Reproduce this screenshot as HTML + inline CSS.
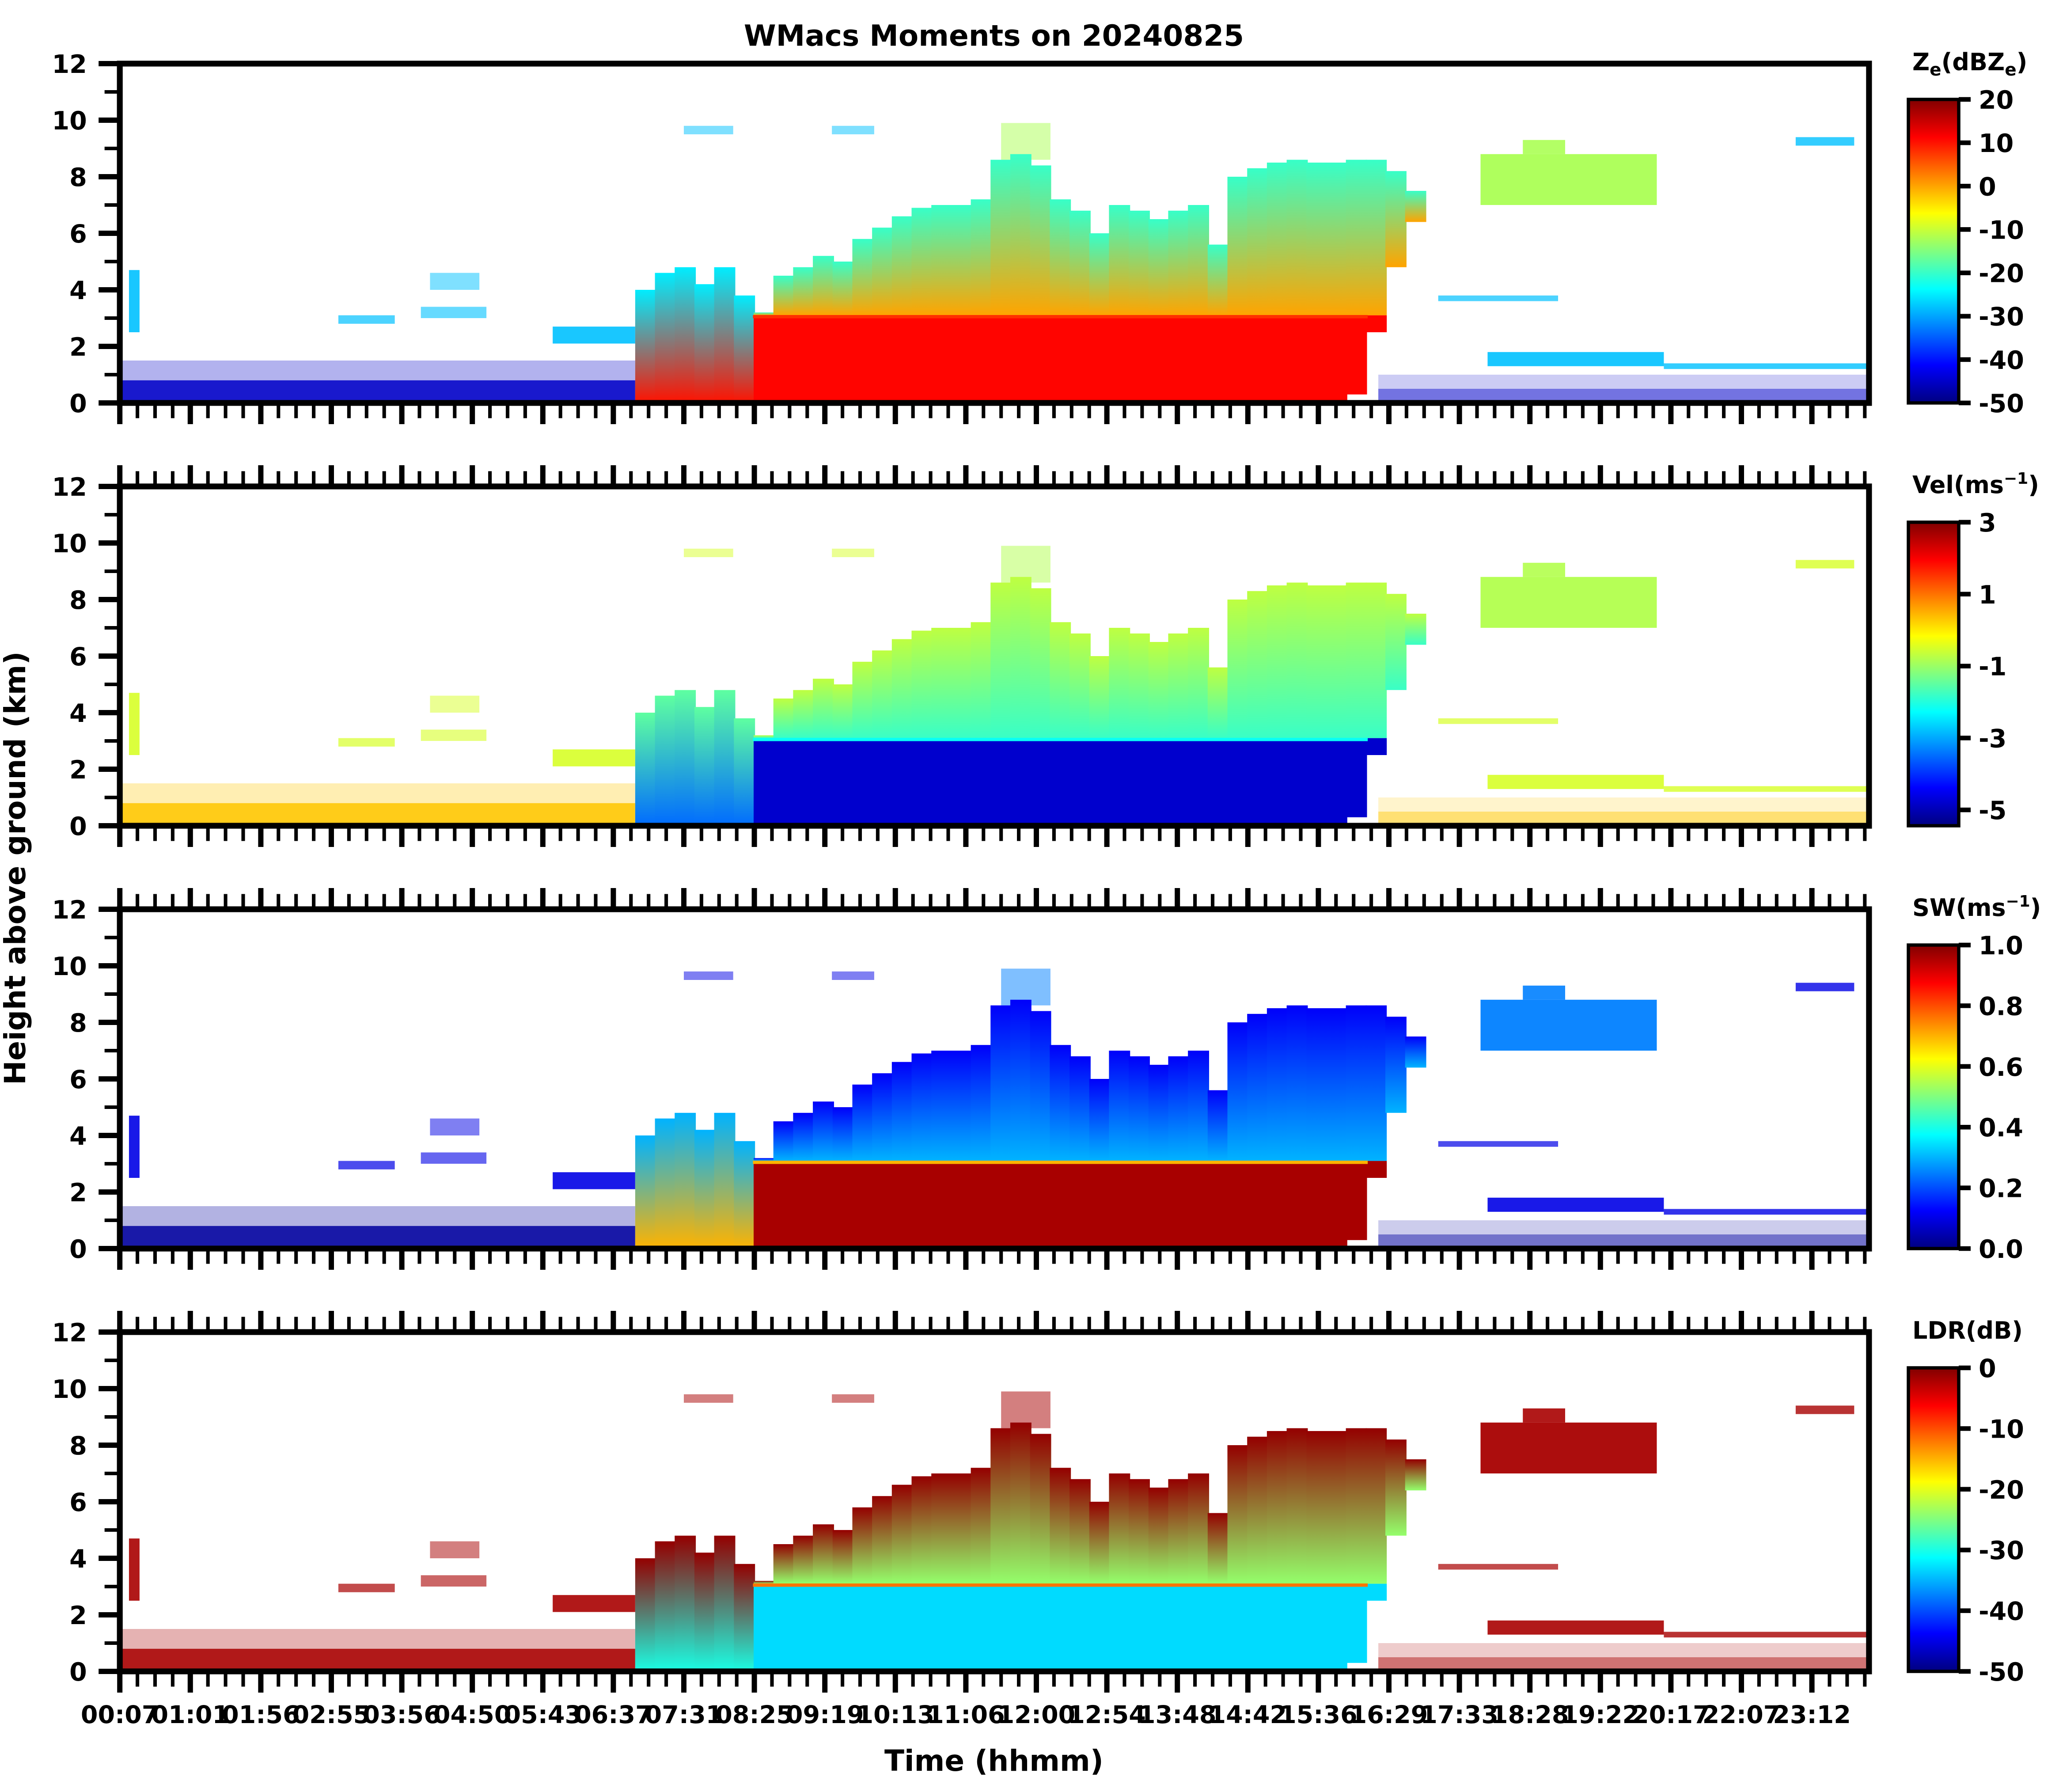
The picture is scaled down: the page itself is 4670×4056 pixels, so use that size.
<!DOCTYPE html>
<html><head><meta charset="utf-8"><title>WMacs Moments</title>
<style>html,body{margin:0;padding:0;background:#fff}svg{display:block}text{font-family:"DejaVu Sans","Liberation Sans",sans-serif;font-weight:bold;fill:#000}</style>
</head><body>
<svg id="fig" xmlns="http://www.w3.org/2000/svg" width="4670" height="4056" viewBox="0 0 1556.67 1352">
<rect width="1556.67" height="1352" fill="#fff"/>
<defs id="defs"></defs>
<text x="750" y="34.5" font-size="22" text-anchor="middle">WMacs Moments on 20240825</text>
<text x="750" y="1336" font-size="22" text-anchor="middle">Time (hhmm)</text>
<text transform="translate(19,655) rotate(-90)" font-size="22" text-anchor="middle">Height above ground (km)</text>
<g id="root"></g>
</svg>
<script>
// ---- data (x in tick-index units, heights in km) ----
const xTickLabels = ["00:07","01:01","01:56","02:55","03:56","04:50","05:43","06:37","07:31","08:25","09:19","10:13","11:06","12:00","12:54","13:48","14:42","15:36","16:29","17:33","18:28","19:22","20:17","22:07","23:12"];
const yTicks = [0,2,4,6,8,10,12];
const mainStart = 7.31;
const mainStep = 0.28;
const mainTops = [4.0,4.6,4.8,4.2,4.8,3.8,3.2,4.5,4.8,5.2,5.0,5.8,6.2,6.6,6.9,7.0,7.0,7.2,8.6,8.8,8.4,7.2,6.8,6.0,7.0,6.8,6.5,6.8,7.0,5.6,8.0,8.3,8.5,8.6,8.5,8.5,8.6,8.6,8.2,7.5];
const mainBases = [0,0,0,0,0,0,0,0,0,0,0,0,0,0,0,0,0,0,0,0,0,0,0,0,0,0,0,0,0,0,0,0,0,0,0,0,0.3,2.5,4.8,6.4];
const convEnd = 8.98;
const rainTop = 3.1;
const meltEnd = 17.7;
// segments: [u0,u1,base,top,kind,coverage]
const segments = [
 [0,7.31,0,0.8,"noise",0.9],[0,7.31,0.8,1.5,"noise",0.3],
 [17.85,24.8,0,0.5,"noise",0.55],[17.85,24.8,0.5,1.0,"noise",0.2],
 [0.13,0.28,2.5,4.7,"thin",0.9],
 [3.1,3.9,2.8,3.1,"thin",0.7],[4.27,5.2,3.0,3.4,"thin",0.6],[4.4,5.1,4.0,4.6,"thin",0.5],
 [6.14,7.31,2.1,2.7,"thin",0.9],
 [19.4,21.9,1.3,1.8,"low",0.9],[21.9,24.8,1.2,1.4,"low",0.8],
 [19.3,21.8,7.0,8.8,"upper",0.95],[19.9,20.5,8.8,9.3,"upper",0.9],
 [18.7,20.4,3.6,3.8,"thin",0.7],[23.77,24.6,9.1,9.4,"thin",0.8],
 [8.0,8.7,9.5,9.8,"thin",0.5],[10.1,10.7,9.5,9.8,"thin",0.5],
 [12.5,13.2,8.6,9.9,"upper",0.5]
];
// per-panel values by kind
const panelNames = ["ze","vel","sw","ldr"];
const vmin = [-50,-5.44,0,-50];
const vmax = [20,3,1,0];
const cbTicks = [[20,10,0,-10,-20,-30,-40,-50],[3,1,-1,-3,-5],[1.0,0.8,0.6,0.4,0.2,0.0],[0,-10,-20,-30,-40,-50]];
const noiseVal = [-45,0.3,0.03,-2];
const thinVal = [-28,-0.5,0.1,-2];
const lowVal = [-28,-0.5,0.1,-2];
const upperVal = [-12,-0.8,0.25,-2];
const rainVal = [11,-4.8,0.96,-33];
const iceBottomVal = [0,-1.8,0.3,-24];
const iceTopVal = [-20,-0.7,0.12,-1];
const convBottomVal = [10,-3.5,0.7,-30];
const convTopVal = [-25,-1.5,0.3,-1];
const meltVal = [8,-2.2,0.7,-12];

// ---- layout ----
const L=90.4,R=1410.3,PH=256;
const panelTops=[48,367,686,1005];
const NS="http://www.w3.org/2000/svg";
const root=document.getElementById('root');
const defs=document.getElementById('defs');
function el(tag,attrs,parent){const e=document.createElementNS(NS,tag);for(const k in attrs)e.setAttribute(k,attrs[k]);(parent||root).appendChild(e);return e;}
function xs(u){return L+u*53.2;}
function jet(t){t=Math.max(0,Math.min(1,t));
 const r=Math.max(0,Math.min(1,1.5-Math.abs(4*t-3))),g=Math.max(0,Math.min(1,1.5-Math.abs(4*t-2))),b=Math.max(0,Math.min(1,1.5-Math.abs(4*t-1)));
 return "rgb("+Math.round(r*255)+","+Math.round(g*255)+","+Math.round(b*255)+")";}
const kindVals={noise:noiseVal,thin:thinVal,low:lowVal,upper:upperVal};
const cbTitles=['Z<tspan font-size="13" dy="4">e</tspan><tspan dy="-4">(dBZ</tspan><tspan font-size="13" dy="4">e</tspan><tspan dy="-4">)</tspan>','Vel(ms<tspan font-size="12" dy="-7">−1</tspan><tspan dy="7">)</tspan>','SW(ms<tspan font-size="12" dy="-7">−1</tspan><tspan dy="7">)</tspan>','LDR(dB)'];

panelNames.forEach((pn,p)=>{
 const top=panelTops[p],bot=top+PH;
 const ys=h=>bot-h/12*PH;
 const col=v=>jet((v-vmin[p])/(vmax[p]-vmin[p]));
 const g=el('g',{});
 
 
 const gi=el('linearGradient',{id:'ice'+p,x1:0,y1:1,x2:0,y2:0},defs);
 el('stop',{offset:0,'stop-color':col(iceBottomVal[p])},gi);el('stop',{offset:1,'stop-color':col(iceTopVal[p])},gi);
 const gc=el('linearGradient',{id:'conv'+p,x1:0,y1:1,x2:0,y2:0},defs);
 el('stop',{offset:0,'stop-color':col(convBottomVal[p])},gc);el('stop',{offset:1,'stop-color':col(convTopVal[p])},gc);
 const clip=el('clipPath',{id:'clip'+p},defs);el('rect',{x:L,y:top,width:R-L,height:PH},clip);
 const data=el('g',{'clip-path':'url(#clip'+p+')'},g);
 segments.forEach(s=>{
  const r=el('rect',{x:xs(s[0]),y:ys(s[3]),width:xs(s[1])-xs(s[0]),height:ys(s[2])-ys(s[3]),fill:col(kindVals[s[4]][p]),'fill-opacity':s[5]},data);
  
  
 });
 mainTops.forEach((t,i)=>{
  const u0=mainStart+i*mainStep,u1=u0+mainStep+0.02,b=mainBases[i];
  const x0=xs(u0),w=xs(u1)-x0;
  if(u0<convEnd){
   const r=el('rect',{x:x0,y:ys(t),width:w,height:ys(b)-ys(t),fill:'url(#conv'+p+')'},data);
   
   
  } else {
   const rt=Math.max(b,Math.min(rainTop,t));
   if(rt>b){const r=el('rect',{x:x0,y:ys(rt),width:w,height:ys(b)-ys(rt),fill:col(rainVal[p])},data);
    
    }
   const ib=Math.max(b,rainTop);
   if(t>ib){const r=el('rect',{x:x0,y:ys(t),width:w,height:ys(ib)-ys(t),fill:'url(#ice'+p+')'},data);
    
    }
  }
 });
 const ml=el('line',{x1:xs(convEnd),x2:xs(meltEnd),y1:ys(rainTop-0.05),y2:ys(rainTop-0.05),stroke:col(meltVal[p]),'stroke-width':2.5},data);
 
 
 const fr=el('rect',{x:L,y:top,width:R-L,height:PH,fill:'none',stroke:'#000','stroke-width':4.4},g);
 
 
 for(let h=0;h<=12;h++){
  const major=h%2===0;
  el('line',{x1:L-2-(major?14:9.5),x2:L,y1:ys(h),y2:ys(h),stroke:'#000','stroke-width':major?4:2.7},g);
 }
 yTicks.forEach(h=>{const t=el('text',{x:65.6,y:ys(h)+7,'font-size':19,'text-anchor':'end'},g);t.textContent=h;
  
  });
 for(let k=0;k<=120;k++){
  const u=k/4,x=xs(u);if(x>R)break;
  const major=k%4===0,len=major?14:9.5,sw=major?4:2.7;
  el('line',{x1:x,x2:x,y1:bot,y2:bot+2+len,stroke:'#000','stroke-width':sw},g);
  if(p>0)el('line',{x1:x,x2:x,y1:top,y2:top-2-len,stroke:'#000','stroke-width':sw},g);
 }
 if(p===3){xTickLabels.forEach((lb,i)=>{const t=el('text',{x:xs(i),y:bot+39,'font-size':18.5,'text-anchor':'middle'},g);t.textContent=lb;
  
  });}
 const cx=1440,cw=38,ct=top+27,cbH=bot-ct;
 const cg=el('linearGradient',{id:'cb'+p,x1:0,y1:1,x2:0,y2:0},defs);
 for(let s=0;s<=8;s++){el('stop',{offset:s/8,'stop-color':jet(s/8)},cg);}
 const cb=el('rect',{x:cx,y:ct,width:cw,height:cbH,fill:'url(#cb'+p+')',stroke:'#000','stroke-width':2.5},g);
 
 
 cbTicks[p].forEach(v=>{const y=bot-(v-vmin[p])/(vmax[p]-vmin[p])*cbH;
  el('line',{x1:cx+cw,x2:cx+cw+9,y1:y,y2:y,stroke:'#000','stroke-width':3.5},g);
  const t=el('text',{x:1493,y:y+7,'font-size':19},g);t.textContent=(p===2?v.toFixed(1):String(v));
  
  });
 const ttl=el('text',{x:1443,y:top+5,'font-size':18},g);ttl.innerHTML=cbTitles[p];
 
 
});
</script>
</body></html>
